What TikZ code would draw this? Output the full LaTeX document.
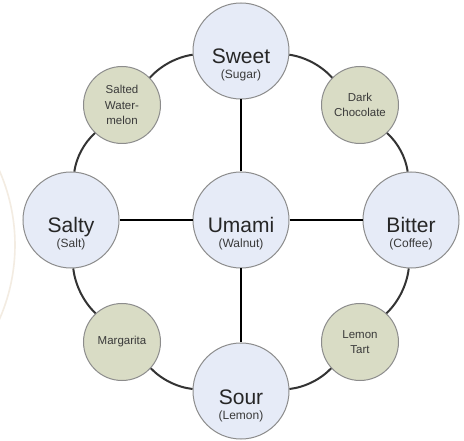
\documentclass[tikz,border=0pt]{standalone}
\usepackage{fontspec}
\setmainfont{Liberation Sans}
\definecolor{bigfill}{HTML}{E6EBF7}
\definecolor{smallfill}{HTML}{D9DCC5}
\definecolor{edgegray}{HTML}{8C8C8C}
\definecolor{ringcol}{HTML}{333333}
\definecolor{txt}{HTML}{262626}
\definecolor{subtxt}{HTML}{3A3A3A}
\definecolor{faint}{HTML}{F3ECE2}
\begin{document}
\begin{tikzpicture}[x=1pt,y=1pt,
  bignode/.style={circle,minimum size=96pt,inner sep=0pt,fill=bigfill,draw=edgegray,line width=1pt},
  smallnode/.style={circle,minimum size=77pt,inner sep=0pt,fill=smallfill,draw=edgegray,line width=1pt,
     align=center,text=subtxt,font=\fontsize{11.5}{15.5}\selectfont},
  maintext/.style={anchor=base,inner sep=0pt,text=txt,font=\fontsize{21}{24}\selectfont},
  subtext/.style={anchor=base,inner sep=0pt,text=subtxt,font=\fontsize{12}{14}\selectfont},
  ringline/.style={draw=ringcol,line width=2pt},
  spoke/.style={draw=black,line width=1.6pt}]
\useasboundingbox (0,0) rectangle (464,-441);
\clip (0,0) rectangle (464,-441);
\fill[white] (0,0) rectangle (464,-441);
% faint background arc
\coordinate (fc) at (-170,-245);
\draw[faint,line width=1.6pt] ([shift={(-25:185)}]fc) arc[start angle=-25,end angle=25,radius=185];
% nodes
\node[bignode] (sweet) at (241,-51) {};
\node[bignode] (salty) at (71,-220) {};
\node[bignode] (umami) at (241,-220) {};
\node[bignode] (bitter) at (411,-220) {};
\node[bignode] (sour) at (241,-391) {};
\node[smallnode] (sw) at (122,-105) {Salted\\Water-\\melon};
\node[smallnode] (dc) at (360,-105) {Dark\\Chocolate};
\node[smallnode] (marg) at (122,-342) {Margarita};
\node[smallnode] (lt) at (360,-342) {Lemon\\Tart};
% ring arcs
\path[ringline] (sweet) to[bend right=20,looseness=0.85] (sw);
\path[ringline] (sw) to[bend right=20,looseness=0.85] (salty);
\path[ringline] (salty) to[bend right=20,looseness=0.85] (marg);
\path[ringline] (marg) to[bend right=20,looseness=0.85] (sour);
\path[ringline] (sour) to[bend right=20,looseness=0.85] (lt);
\path[ringline] (lt) to[bend right=20,looseness=0.85] (bitter);
\path[ringline] (bitter) to[bend right=20,looseness=0.85] (dc);
\path[ringline] (dc) to[bend right=20,looseness=0.85] (sweet);
% spokes
\path[spoke] (umami) -- (sweet);
\path[spoke] (umami) -- (salty);
\path[spoke] (umami) -- (bitter);
\path[spoke] (umami) -- (sour);
% labels
\node[maintext] (sweetm) at ([yshift=-13pt]sweet.center) {Sweet};
\node[subtext] (sweets) at ([yshift=-28pt]sweet.center) {(Sugar)};
\node[maintext] (saltym) at ([yshift=-13pt]salty.center) {Salty};
\node[subtext] (saltys) at ([yshift=-28pt]salty.center) {(Salt)};
\node[maintext] (umamim) at ([yshift=-13pt]umami.center) {Umami};
\node[subtext] (umamis) at ([yshift=-28pt]umami.center) {(Walnut)};
\node[maintext] (bitterm) at ([yshift=-13pt]bitter.center) {Bitter};
\node[subtext] (bitters) at ([yshift=-28pt]bitter.center) {(Coffee)};
\node[maintext] (sourm) at ([yshift=-13pt]sour.center) {Sour};
\node[subtext] (sours) at ([yshift=-28pt]sour.center) {(Lemon)};
\end{tikzpicture}
\end{document}
